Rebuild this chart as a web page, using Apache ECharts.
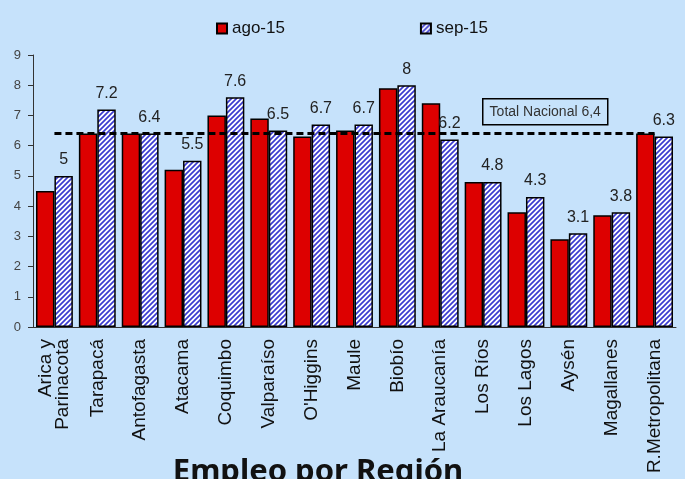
<!DOCTYPE html>
<html lang="es">
<head>
<meta charset="UTF-8">
<title>Empleo por Región</title>
<script src="https://cdn.jsdelivr.net/npm/echarts@6/dist/echarts.min.js"></script>
<style>
    html,body{margin:0;padding:0;background:#c6e2fb;}
    #main{width:685px;height:479px;}
</style>
</head>
<body>
<div id="main"></div>
<script>
    // datos
    var regiones = ['Arica y\nParinacota', 'Tarapacá', 'Antofagasta', 'Atacama', 'Coquimbo', 'Valparaíso', "O'Higgins",
        'Maule', 'Biobío', 'La Araucanía', 'Los Ríos', 'Los Lagos', 'Aysén', 'Magallanes', 'R.Metropolitana'];
    var ago15 = [4.5, 6.4, 6.4, 5.2, 7.0, 6.9, 6.3, 6.5, 7.9, 7.4, 4.8, 3.8, 2.9, 3.7, 6.4];
    var sep15 = [5, 7.2, 6.4, 5.5, 7.6, 6.5, 6.7, 6.7, 8, 6.2, 4.8, 4.3, 3.1, 3.8, 6.3];
    var totalNacional = 6.4;
    var yTicks = [0, 9, 1]; // min, max, intervalo

    // trama rayada para sep-15
    var hatch = document.createElement('canvas');
    hatch.width = 5; hatch.height = 5;
    var ctx = hatch.getContext('2d');
    ctx.fillStyle = '#ffffff';
    ctx.fillRect(0, 0, 5, 5);
    ctx.strokeStyle = '#3b3bd0';
    ctx.lineWidth = 1.7;
    ctx.beginPath();
    ctx.moveTo(-1, 6); ctx.lineTo(6, -1);
    ctx.moveTo(-1, 1); ctx.lineTo(1, -1);
    ctx.moveTo(4, 6); ctx.lineTo(6, 4);
    ctx.stroke();

    var chart = echarts.init(document.getElementById('main'));
    var option = {
        backgroundColor: '#c6e2fb',
        animation: false,
        textStyle: {fontFamily: 'Liberation Sans, Arial, sans-serif'},
        title: {
            text: 'Empleo por Región',
            left: 313,
            textAlign: 'center',
            top: 452,
            textStyle: {fontSize: 31, fontWeight: 'bold', color: '#111', fontFamily: 'Noto Sans, sans-serif'}
        },
        legend: {
            left: 211,
            top: 15,
            itemWidth: 10,
            itemHeight: 10,
            itemGap: 135,
            icon: 'rect',
            textStyle: {fontSize: 17, color: '#111'},
            data: ['ago-15', 'sep-15']
        },
        grid: {left: 33, right: 9, top: 55, bottom: 152},
        xAxis: {
            type: 'category',
            data: regiones,
            axisLine: {lineStyle: {color: '#333', width: 1}},
            axisTick: {length: 5, lineStyle: {color: '#333'}},
            axisLabel: {rotate: 90, fontSize: 19, color: '#111', margin: 12, interval: 0, lineHeight: 17}
        },
        yAxis: {
            type: 'value',
            min: yTicks[0],
            max: yTicks[1],
            interval: yTicks[2],
            splitLine: {show: false},
            axisLine: {show: true, lineStyle: {color: '#333', width: 1}},
            axisTick: {show: true, length: 5, lineStyle: {color: '#333'}},
            axisLabel: {fontSize: 13, color: '#444', margin: 12}
        },
        series: [{
            name: 'ago-15',
            type: 'bar',
            data: ago15,
            barGap: '0%',
            barCategoryGap: '14%',
            itemStyle: {color: '#dd0000', borderColor: '#000', borderWidth: 1.5}
        }, {
            name: 'sep-15',
            type: 'bar',
            data: sep15,
            itemStyle: {color: {image: hatch, repeat: 'repeat'}, borderColor: '#000', borderWidth: 1.5},
            label: {show: true, position: 'top', distance: 8, fontSize: 16, color: '#222'}
        }, {
            // linea del total nacional, centrada en las categorias
            name: 'Total Nacional',
            type: 'line',
            data: [],
            markLine: {
                silent: true,
                symbol: 'none',
                label: {show: false},
                lineStyle: {color: '#000', width: 3, type: [7, 4]},
                data: [[{coord: [0, totalNacional]}, {coord: [regiones.length - 1, totalNacional]}]]
            }
        }],
        graphic: [{
            type: 'group',
            left: 482,
            top: 98,
            children: [{
                type: 'rect',
                shape: {x: 0, y: 0, width: 125, height: 26},
                style: {fill: 'transparent', stroke: '#000', lineWidth: 1.5}
            }, {
                type: 'text',
                x: 62.5,
                y: 13,
                style: {text: 'Total Nacional 6,4', fontSize: 14, fill: '#333', align: 'center', verticalAlign: 'middle',
                    fontFamily: 'Liberation Sans, Arial, sans-serif'}
            }]
        }]
    };
    chart.setOption(option);
</script>
</body>
</html>
